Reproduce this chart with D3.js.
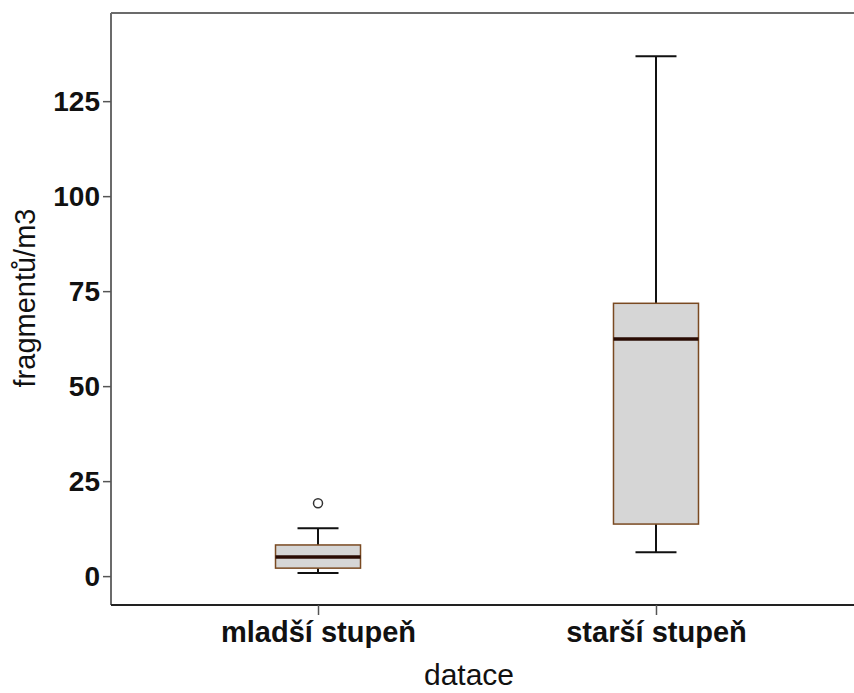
<!DOCTYPE html>
<html>
<head>
<meta charset="utf-8">
<script src="https://cdn.jsdelivr.net/npm/d3@7"></script>
<style>
  html, body { margin: 0; padding: 0; background: #fff; }
  svg { display: block; font-family: "Liberation Sans", Arial, sans-serif; }
</style>
</head>
<body>
<svg id="chart" width="854" height="693"></svg>
<script>
// Group labels along the x axis
const categories = ["mladší stupeň", "starší stupeň"];
// Five-number summaries per group (fragments per cubic metre)
const whiskerLow  = [0.8, 6.3];
const quartile1   = [2.1, 13.7];
const medians     = [5.0, 62.4];
const quartile3   = [8.2, 71.8];
const whiskerHigh = [12.6, 136.8];
// Outlying observations per group
const outliers    = [[19.2], []];
// Y axis tick values
const yTicks = [0, 25, 50, 75, 100, 125];

const svg = d3.select("#chart");
const plotLeft = 111, plotTop = 13, plotBottom = 605, plotRight = 863;

const y = d3.scaleLinear().domain([-7.6, 148.2]).range([plotBottom, plotTop]);
const x = d3.scalePoint().domain(categories).range([plotLeft, plotRight]).padding(0.6125);

const boxW = 85, capW = 41;

// Frame: left, top and bottom borders
const frame = svg.append("g").attr("stroke", "#6b6b6b").attr("stroke-width", 2).attr("fill", "none");
frame.append("line").attr("x1", plotLeft).attr("x2", 854).attr("y1", plotTop).attr("y2", plotTop);
frame.append("line").attr("x1", plotLeft).attr("x2", plotLeft).attr("y1", plotTop).attr("y2", plotBottom);
frame.append("line").attr("x1", plotLeft).attr("x2", 854).attr("y1", plotBottom).attr("y2", plotBottom).attr("stroke", "#222");

// Y axis
const yAxis = svg.append("g")
  .attr("transform", `translate(${plotLeft},0)`)
  .call(d3.axisLeft(y).tickValues(yTicks).tickSize(8).tickPadding(3));
yAxis.select(".domain").remove();
yAxis.selectAll(".tick line").attr("stroke", "#555").attr("stroke-width", 1.5);
yAxis.selectAll(".tick text")
  .attr("font-family", "Liberation Sans, Arial, sans-serif")
  .attr("font-size", 28).attr("font-weight", "bold").attr("fill", "#111");

// X axis
const xAxis = svg.append("g")
  .attr("transform", `translate(0,${plotBottom})`)
  .call(d3.axisBottom(x).tickSize(10).tickPadding(6));
xAxis.select(".domain").remove();
xAxis.selectAll(".tick line").attr("stroke", "#555").attr("stroke-width", 1.5);
xAxis.selectAll(".tick text")
  .attr("font-family", "Liberation Sans, Arial, sans-serif")
  .attr("font-size", 29).attr("font-weight", "bold").attr("fill", "#111");

// Axis titles
svg.append("text")
  .attr("transform", "translate(35,298) rotate(-90)")
  .attr("text-anchor", "middle")
  .attr("font-size", 29).attr("fill", "#111")
  .text("fragmentů/m3");
svg.append("text")
  .attr("x", 469).attr("y", 685)
  .attr("text-anchor", "middle")
  .attr("font-size", 30).attr("fill", "#111")
  .text("datace");

// Boxes
const groups = svg.append("g").selectAll("g").data(categories).join("g");

groups.each(function(c, i) {
  const g = d3.select(this);
  const cx = x(c);
  // whisker stems
  g.append("line").attr("x1", cx).attr("x2", cx)
    .attr("y1", y(whiskerHigh[i])).attr("y2", y(quartile3[i]))
    .attr("stroke", "#111").attr("stroke-width", 2);
  g.append("line").attr("x1", cx).attr("x2", cx)
    .attr("y1", y(quartile1[i])).attr("y2", y(whiskerLow[i]))
    .attr("stroke", "#111").attr("stroke-width", 2);
  // whisker caps
  [whiskerLow[i], whiskerHigh[i]].forEach(v => {
    g.append("line").attr("x1", cx - capW / 2).attr("x2", cx + capW / 2)
      .attr("y1", y(v)).attr("y2", y(v))
      .attr("stroke", "#111").attr("stroke-width", 2);
  });
  // box
  g.append("rect")
    .attr("x", cx - boxW / 2).attr("width", boxW)
    .attr("y", y(quartile3[i])).attr("height", y(quartile1[i]) - y(quartile3[i]))
    .attr("fill", "#d6d6d6").attr("stroke", "#7a4a22").attr("stroke-width", 1.5);
  // median
  g.append("line").attr("x1", cx - boxW / 2).attr("x2", cx + boxW / 2)
    .attr("y1", y(medians[i])).attr("y2", y(medians[i]))
    .attr("stroke", "#2a0c04").attr("stroke-width", 3.5);
  // outliers
  g.selectAll("circle").data(outliers[i]).join("circle")
    .attr("cx", cx).attr("cy", d => y(d)).attr("r", 4.5)
    .attr("fill", "#fff").attr("stroke", "#333").attr("stroke-width", 1.5);
});
</script>
</body>
</html>
